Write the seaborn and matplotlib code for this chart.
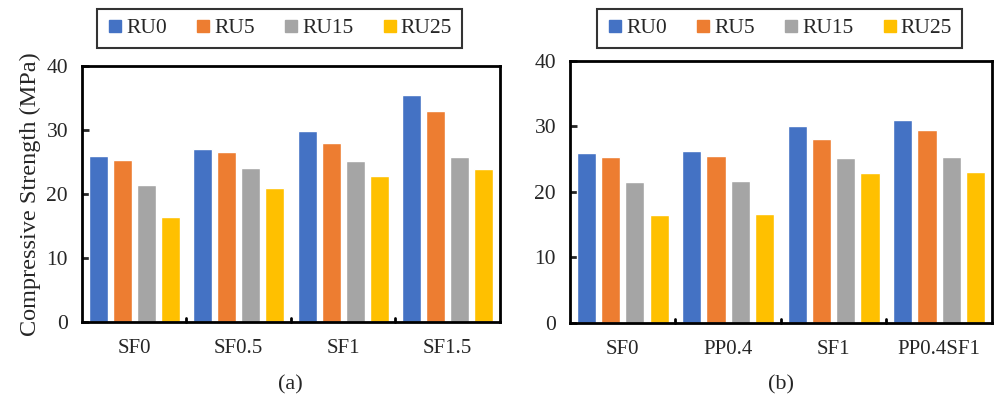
import matplotlib
matplotlib.use("Agg")
import matplotlib.pyplot as plt
import seaborn as sns
import pandas as pd
from matplotlib.lines import Line2D

series = ["RU0", "RU5", "RU15", "RU25"]
colors = ["#4472C4", "#ED7D31", "#A5A5A5", "#FFC000"]

cats_a = ["SF0", "SF0.5", "SF1", "SF1.5"]
ru0_a = [25.9, 27.1, 29.9, 35.4]
ru5_a = [25.3, 26.5, 28.0, 32.9]
ru15_a = [21.4, 24.0, 25.1, 25.8]
ru25_a = [16.4, 21.0, 22.8, 23.9]

cats_b = ["SF0", "PP0.4", "SF1", "PP0.4SF1"]
ru0_b = [25.9, 26.3, 30.1, 31.0]
ru5_b = [25.3, 25.5, 28.1, 29.5]
ru15_b = [21.5, 21.7, 25.2, 25.4]
ru25_b = [16.5, 16.7, 22.9, 23.1]

yticks = [0, 10, 20, 30, 40]


def make_df(cats, vals):
    rows = []
    for s, v in zip(series, vals):
        for c, y in zip(cats, v):
            rows.append({"cat": c, "series": s, "value": y})
    return pd.DataFrame(rows)


df_a = make_df(cats_a, [ru0_a, ru5_a, ru15_a, ru25_a])
df_b = make_df(cats_b, [ru0_b, ru5_b, ru15_b, ru25_b])

sns.set_style("white")
plt.rcParams["font.family"] = ["Liberation Serif", "DejaVu Serif"]

fig = plt.figure(figsize=(9.94, 4.05), dpi=100)
ax1 = fig.add_axes([0.0825, 0.205, 0.4205, 0.632])
ax2 = fig.add_axes([0.5734, 0.2025, 0.4245, 0.647])

for ax, df, cats, lab, lx, legx in [(ax1, df_a, cats_a, "(a)", 0.2925, 0.281),
                                     (ax2, df_b, cats_b, "(b)", 0.7856, 0.784)]:
    sns.barplot(data=df, x="cat", y="value", hue="series", order=cats,
                hue_order=series, palette=colors, width=0.92, gap=0.21,
                saturation=1, ax=ax, legend=False)
    ax.set_xlim(-0.5, 3.5)
    ax.set_ylim(0, 40)
    ax.set_yticks(yticks)
    ax.set_xlabel("")
    ax.set_ylabel("")
    ax.set_xticks([0, 1, 2, 3])
    ax.set_xticklabels(cats, fontsize=15)
    ax.tick_params(axis="x", length=0, pad=12)
    ax.tick_params(axis="y", labelsize=15.5, direction="in", length=5, width=2,
                   left=True, pad=10)
    for b in [0.5, 1.5, 2.5]:
        ax.plot([b, b], [0, 0.6], color="black", lw=2, clip_on=False)
    for sp in ax.spines.values():
        sp.set_visible(True)
        sp.set_color("black")
        sp.set_linewidth(2)
    fig.text(lx, 0.05, lab, ha="center", va="center", fontsize=16)
    handles = [Line2D([], [], marker="s", linestyle="none", color=c, markersize=8)
               for c in colors]
    leg = fig.legend(handles, series, loc="center",
                     bbox_to_anchor=(legx, 0.930),
                     ncol=4, fontsize=15.5, frameon=True, fancybox=False,
                     edgecolor="black", handletextpad=0.1, columnspacing=1.3,
                     handlelength=0.8, borderpad=0.45)
    leg.get_frame().set_linewidth(1.5)

ax1.set_ylabel("Compressive Strength (MPa)", fontsize=17.5, labelpad=4)

fig.savefig("out.png", dpi=100)
